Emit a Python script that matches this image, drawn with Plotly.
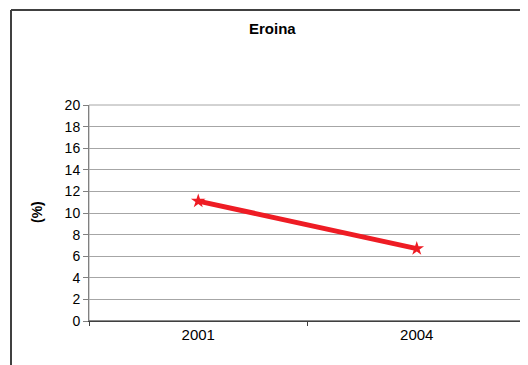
import plotly.graph_objects as go

years = ["2001", "2004"]
values = [11.1, 6.7]
title_text = "Eroina"
y_label = "(%)"

# page body has an 8px margin, so the figure is placed at (8, 8)
OFF = 8
W, H = 528 - OFF, 365 - OFF
L, R, T, B = 89 - OFF, 526 - OFF, 105 - OFF, 321 - OFF
pw, ph = R - L, B - T

fig = go.Figure()
fig.add_trace(go.Scatter(
    x=years, y=values, mode="lines+markers",
    line=dict(color="#ee1c24", width=5),
    marker=dict(symbol="star", size=11, color="#ee1c24"),
    showlegend=False,
))

def px_x(x):
    return (x - OFF - L) / pw

def px_y(y):
    return (B - (y - OFF)) / ph

fig.update_layout(
    width=W, height=H,
    margin=dict(l=L, r=W - R, t=T, b=H - B),
    paper_bgcolor="white", plot_bgcolor="white",
    font=dict(family="Liberation Sans, Arial, sans-serif", size=14, color="#000000"),
    xaxis=dict(
        type="category", tickson="boundaries", ticks="outside", ticklen=4,
        tickcolor="#404040", showline=True, linecolor="#404040", linewidth=1,
        showgrid=False, range=[-0.5, 1.5], mirror=False,
        tickfont=dict(size=15),
    ),
    yaxis=dict(
        range=[0, 20], dtick=2, ticks="outside", ticklen=5, tickcolor="#808080",
        showline=True, linecolor="#808080", linewidth=1,
        showgrid=True, gridcolor="#a6a6a6", gridwidth=1, zeroline=False,
        tickfont=dict(size=14),
    ),
    shapes=[
        dict(type="rect", xref="paper", yref="paper",
             x0=0, x1=1, y0=0, y1=1, line=dict(color="#a6a6a6", width=1), layer="below"),
        dict(type="line", xref="paper", yref="paper",
             x0=0, x1=1, y0=0, y1=0, line=dict(color="#404040", width=1)),
        dict(type="line", xref="paper", yref="paper",
             x0=px_x(11), x1=px_x(11), y0=px_y(10), y1=px_y(400),
             line=dict(color="#404040", width=2)),
        dict(type="line", xref="paper", yref="paper",
             x0=px_x(11), x1=px_x(600), y0=px_y(10), y1=px_y(10),
             line=dict(color="#404040", width=2)),
    ],
    annotations=[
        dict(text="<b>" + title_text + "</b>", xref="paper", yref="paper",
             x=px_x(272), y=px_y(28), showarrow=False, font=dict(size=15),
             xanchor="center", yanchor="middle"),
        dict(text="<b>" + y_label + "</b>", xref="paper", yref="paper",
             x=px_x(37), y=px_y(212), showarrow=False, font=dict(size=14),
             textangle=-90, xanchor="center", yanchor="middle"),
    ],
)

fig.write_html("out.html")
